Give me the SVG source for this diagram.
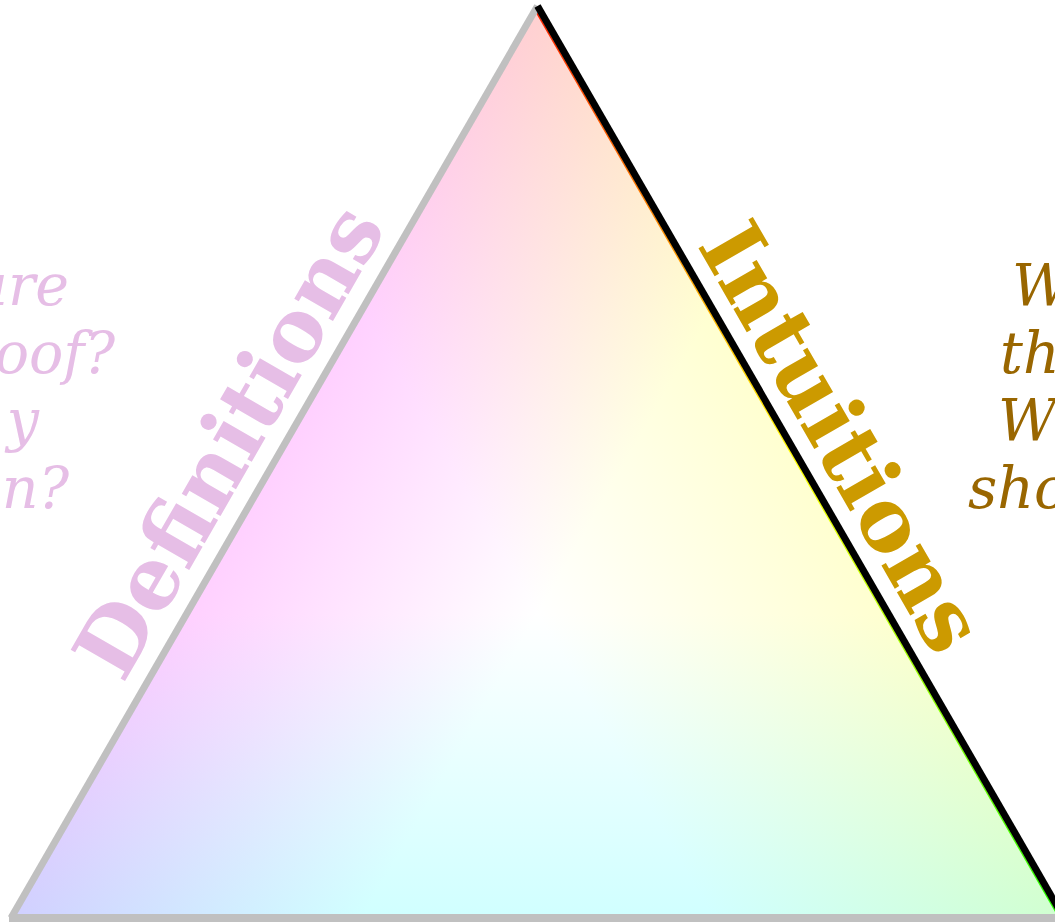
<svg xmlns="http://www.w3.org/2000/svg" width="1055" height="923" viewBox="0 0 1055 923">
  <defs>
    <linearGradient id="gR" gradientUnits="userSpaceOnUse" x1="0" y1="918" x2="0" y2="6">
      <stop offset="0" stop-color="#d0ffff"/>
      <stop offset="0.3333" stop-color="#ffffff"/>
      <stop offset="1" stop-color="#ffffff"/>
    </linearGradient>
    <linearGradient id="gG" gradientUnits="userSpaceOnUse" x1="11" y1="918" x2="800.8" y2="1374">
      <stop offset="0" stop-color="#ffd0ff"/>
      <stop offset="0.3333" stop-color="#ffffff"/>
      <stop offset="1" stop-color="#ffffff"/>
    </linearGradient>
    <linearGradient id="gB" gradientUnits="userSpaceOnUse" x1="1064" y1="918" x2="274.2" y2="1374">
      <stop offset="0" stop-color="#ffffd0"/>
      <stop offset="0.3333" stop-color="#ffffff"/>
      <stop offset="1" stop-color="#ffffff"/>
    </linearGradient>
    <linearGradient id="gFringe" gradientUnits="userSpaceOnUse" x1="537.5" y1="6" x2="1064" y2="918">
      <stop offset="0" stop-color="#ff2200"/>
      <stop offset="0.5" stop-color="#ffff00"/>
      <stop offset="1" stop-color="#22ff00"/>
    </linearGradient>
    <style>
      .mult { mix-blend-mode: multiply; }
      .edge { fill: none; stroke-linecap: butt; }
      .gray { stroke: #c0c0c0; }
      .big { font-family: "DejaVu Serif", "Liberation Serif", serif; font-weight: bold; font-size: 86px; }
      .q { font-family: "DejaVu Serif", "Liberation Serif", serif; font-style: italic; font-size: 57px; }
    </style>
  </defs>
  <rect width="1055" height="923" fill="#ffffff"/>
  <g id="triangle" style="isolation:isolate">
    <polygon points="537.5,6 11,918 1064,918" fill="url(#gR)"/>
    <polygon class="mult" points="537.5,6 11,918 1064,918" fill="url(#gG)"/>
    <polygon class="mult" points="537.5,6 11,918 1064,918" fill="url(#gB)"/>
  </g>
  <g id="connectors">
    <line class="edge" x1="534" y1="8" x2="1060.5" y2="920" stroke="url(#gFringe)" stroke-width="1.6"/>
    <line class="edge gray" x1="537.5" y1="6" x2="11" y2="918" stroke-width="7"/>
    <line class="edge gray" x1="9" y1="918" x2="1064" y2="918" stroke-width="8"/>
    <line class="edge" x1="537.5" y1="6" x2="1064" y2="918" stroke="#000000" stroke-width="7"/>
  </g>
  <g id="definitions">
    <text class="big" x="255" y="456" transform="rotate(-60 255 456)" text-anchor="middle" fill="#e6bee6">Definitions</text>
  </g>
  <g id="intuitions">
    <text class="big" x="816" y="452" transform="rotate(60 816 452)" text-anchor="middle" fill="#cc9a00">Intuitions</text>
  </g>
  <g id="definitions-questions" fill="#e6bee6" text-anchor="end">
    <text class="q" x="69" y="305">ure</text>
    <text class="q" x="115" y="373">oof?</text>
    <text class="q" x="39" y="440">y</text>
    <text class="q" x="69" y="508">n?</text>
  </g>
  <g id="intuitions-questions" fill="#996600">
    <text class="q" x="1012" y="305">W</text>
    <text class="q" x="1000" y="373">th</text>
    <text class="q" x="998" y="440">W</text>
    <text class="q" x="968" y="508">sho</text>
  </g>
</svg>
